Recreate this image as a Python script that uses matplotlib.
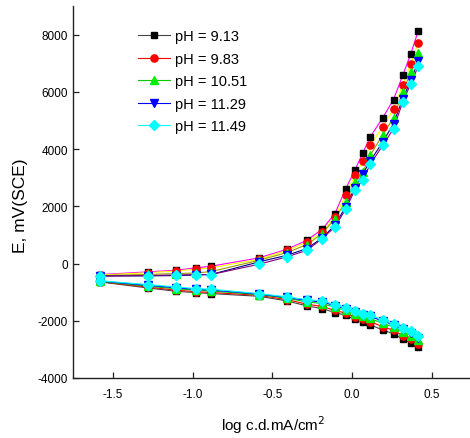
import matplotlib
matplotlib.use("Agg")
import matplotlib.pyplot as plt

plt.rcParams['font.family'] = ['Liberation Sans', 'DejaVu Sans']
plt.rcParams['axes.unicode_minus'] = False

log_cd = [-1.585, -1.284, -1.108, -0.983, -0.886, -0.585, -0.409, -0.284, -0.187,
          -0.108, -0.041, 0.017, 0.068, 0.114, 0.193, 0.260, 0.318, 0.369, 0.415]

labels = ["pH = 9.13", "pH = 9.83", "pH = 10.51", "pH = 11.29", "pH = 11.49"]

# anodic branch
anodic_913 = [-385, -290, -234, -151, -93, 199, 500, 815, 1200, 1750, 2600, 3263, 3880, 4430, 5105, 5735, 6585, 7344, 8137]
anodic_983 = [-400, -320, -260, -200, -150, 150, 460, 750, 1100, 1633, 2390, 3088, 3590, 4137, 4780, 5395, 6260, 6994, 7717]
anodic_1051 = [-420, -380, -350, -330, -280, 115, 385, 664, 1049, 1574, 2158, 2857, 3206, 3788, 4511, 5094, 6004, 6704, 7368]
anodic_1129 = [-430, -430, -420, -400, -380, 58, 290, 525, 899, 1340, 1983, 2647, 3147, 3592, 4256, 4896, 5770, 6410, 7074]
anodic_1149 = [-440, -420, -400, -385, -385, -23, 234, 465, 874, 1282, 1900, 2563, 2937, 3473, 4137, 4720, 5655, 6295, 6900]

# cathodic branch
cathodic_913 = [-640, -850, -968, -1014, -1049, -1143, -1305, -1480, -1574, -1714, -1807, -1947, -2040, -2133, -2331, -2448, -2647, -2774, -2913]
cathodic_983 = [-630, -820, -930, -980, -1010, -1110, -1260, -1420, -1500, -1640, -1730, -1860, -1950, -2030, -2210, -2330, -2520, -2650, -2800]
cathodic_1051 = [-620, -790, -880, -930, -960, -1085, -1215, -1340, -1400, -1530, -1640, -1760, -1850, -1920, -2090, -2220, -2390, -2520, -2680]
cathodic_1129 = [-610, -760, -845, -900, -925, -1065, -1185, -1290, -1345, -1470, -1580, -1700, -1790, -1850, -2010, -2140, -2300, -2420, -2590]
cathodic_1149 = [-600, -734, -815, -874, -897, -1049, -1165, -1259, -1305, -1434, -1550, -1667, -1749, -1807, -1958, -2098, -2249, -2366, -2530]

anodic = [anodic_913, anodic_983, anodic_1051, anodic_1129, anodic_1149]
cathodic = [cathodic_913, cathodic_983, cathodic_1051, cathodic_1129, cathodic_1149]

marker_colors = ['black', 'red', '#00ee00', 'blue', 'cyan']
markers = ['s', 'o', '^', 'v', 'D']
msizes = [4.8, 5.2, 5.8, 5.8, 4.8]
cath_line_colors = ['#444444', 'red', '#00cc00', 'blue', 'cyan']
anod_line_colors = ['magenta', 'yellow', '#999900', '#000080', '#800080']

fig = plt.figure(figsize=(4.70, 4.39), dpi=100)
ax = fig.add_axes([0.156, 0.1367, 0.844, 0.847])

handles = []
for i in range(5):
    ax.plot(log_cd, anodic[i], color=anod_line_colors[i], lw=0.8, zorder=2)
    h, = ax.plot(log_cd, cathodic[i], color=cath_line_colors[i], lw=0.8,
                 marker=markers[i], ms=msizes[i], mfc=marker_colors[i],
                 mec=marker_colors[i], zorder=3 + i)
    ax.plot(log_cd, anodic[i], ls='none', marker=markers[i], ms=msizes[i],
            mfc=marker_colors[i], mec=marker_colors[i], zorder=3 + i)
    handles.append(h)

ax.set_xlim(-1.75, 0.74)
ax.set_ylim(-4000, 9000)
ax.set_xticks([-1.5, -1.0, -0.5, 0.0, 0.5])
ax.set_xticklabels(['-1.5', '-1.0', '-0.5', '0.0', '0.5'])
ax.set_yticks([-4000, -2000, 0, 2000, 4000, 6000, 8000])

for s in ['top', 'right']:
    ax.spines[s].set_visible(False)
for s in ['left', 'bottom']:
    ax.spines[s].set_linewidth(1.0)
    ax.spines[s].set_color('#222222')

ax.tick_params(direction='in', length=4, width=0.9, labelsize=8.5, color='#222222')
ax.tick_params(axis='x', pad=7)
ax.tick_params(axis='y', pad=4)

ax.set_xlabel('log c.d.mA/cm$^2$', fontsize=11)
ax.xaxis.set_label_coords(0.505, -0.094)
ax.set_ylabel('E, mV(SCE)', fontsize=12.5)
ax.yaxis.set_label_coords(-0.114, 0.465)

leg = ax.legend(handles, labels, loc='upper left',
                bbox_to_anchor=(138 / 470, 1 - 30.5 / 439),
                bbox_transform=fig.transFigure,
                frameon=False, fontsize=10.5, handlelength=2.2, handletextpad=0.34,
                labelspacing=0.58, borderaxespad=0, borderpad=0)

fig.savefig('out.png', dpi=100)
